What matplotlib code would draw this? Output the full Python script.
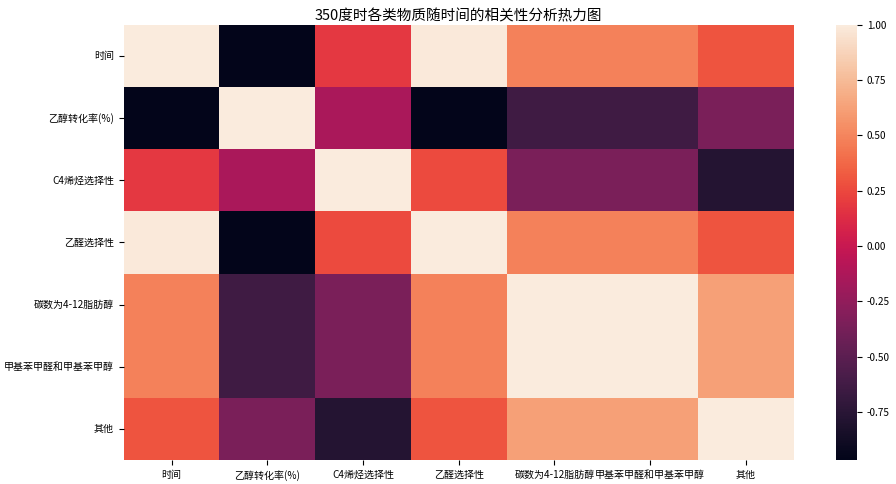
import numpy as np
import pandas as pd
import matplotlib
matplotlib.use("Agg")
import matplotlib.pyplot as plt
import seaborn as sns

plt.rcParams['font.family'] = ['Noto Sans CJK SC', 'DejaVu Sans']
plt.rcParams['axes.unicode_minus'] = False

labels = ["时间", "乙醇转化率(%)", "C4烯烃选择性", "乙醛选择性",
          "碳数为4-12脂肪醇", "甲基苯甲醛和甲基苯甲醇", "其他"]

# upper-triangle correlation values (row by row)
row_time = [1.00, -0.968, 0.18, 0.99, 0.48, 0.48, 0.30]
row_conv = [-0.968, 1.00, -0.14, -0.962, -0.64, -0.64, -0.36]
row_c4 = [0.18, -0.14, 1.00, 0.26, -0.36, -0.36, -0.78]
row_ald = [0.99, -0.962, 0.26, 1.00, 0.48, 0.48, 0.30]
row_fat = [0.48, -0.64, -0.36, 0.48, 1.00, 1.00, 0.62]
row_mb = [0.48, -0.64, -0.36, 0.48, 1.00, 1.00, 0.62]
row_oth = [0.30, -0.36, -0.78, 0.30, 0.62, 0.62, 1.00]

corr = pd.DataFrame([row_time, row_conv, row_c4, row_ald, row_fat, row_mb, row_oth],
                    index=labels, columns=labels)

fig = plt.figure(figsize=(8.96, 4.84), dpi=100)
ax = fig.add_axes([0.138, 0.0496, 0.748, 0.899])
cax = fig.add_axes([0.933, 0.0496, 0.0234, 0.899])

sns.heatmap(corr, ax=ax, cbar_ax=cax, cmap=sns.color_palette("rocket", as_cmap=True))
ax.set_title("350度时各类物质随时间的相关性分析热力图", fontsize=10.5, pad=3)
ax.tick_params(axis='both', labelsize=7.2)
plt.setp(ax.get_yticklabels(), rotation=0)
plt.setp(ax.get_xticklabels(), rotation=0)
cax.tick_params(labelsize=7.2)

fig.savefig("out.png", dpi=100)
